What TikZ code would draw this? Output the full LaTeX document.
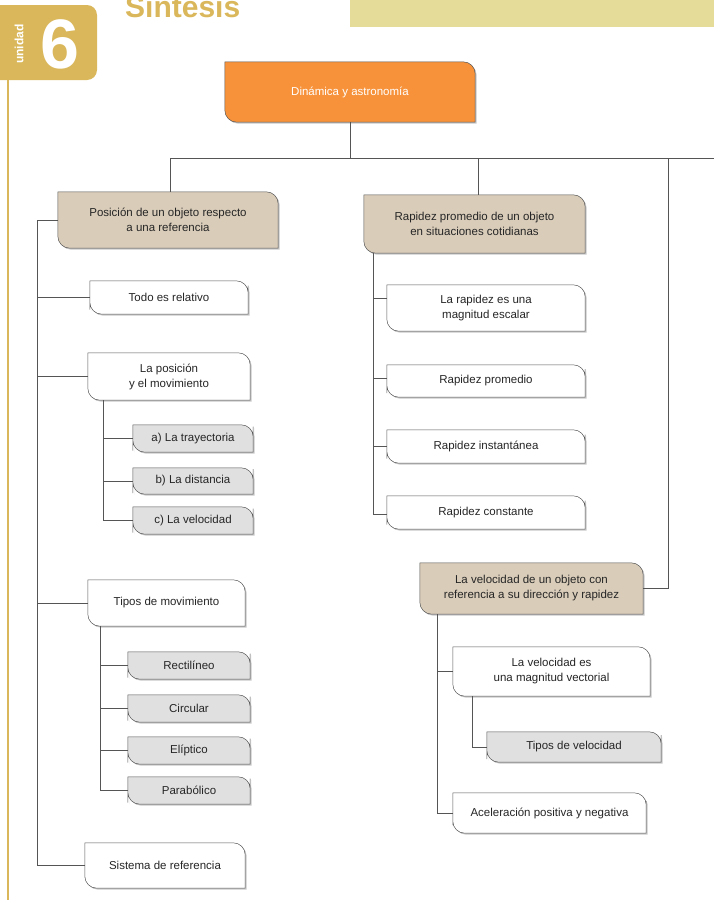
\documentclass[tikz,border=0pt]{standalone}
\usepackage{fontspec}
\setmainfont{Liberation Sans}
\definecolor{beige}{HTML}{D9CCB9}
\definecolor{grayb}{HTML}{E0E0E0}
\definecolor{orng}{HTML}{F7923A}
\definecolor{gold}{HTML}{D9B75A}
\definecolor{olive}{HTML}{E6DC9A}
\definecolor{edge}{HTML}{555555}
\tikzset{
  conn/.style={draw=edge, line width=0.6pt},
  lbl/.style={inner sep=0pt, align=center, font=\fontsize{11.5}{15}\selectfont, text=black!85},
}
\newcommand\boxpath[1]{(#1.north west) [sharp corners] -- (#1.north) [rounded corners=12pt] -- (#1.north east) -- (#1.east) [sharp corners] -- (#1.south east) -- (#1.south) [rounded corners=12pt] -- (#1.south west) -- (#1.west) [sharp corners] -- cycle}
\newcommand\mybox[7]{%
  \node[lbl, minimum width={(#4-#2)*1pt}, minimum height={(#5-#3)*1pt}] (#1) at ({(#2+#4)/2},{(#3+#5)/2}) {};
  \fill[black!22, transform canvas={shift={(1.5pt,-1.5pt)}}] \boxpath{#1};
  \filldraw[fill=#6, draw=edge, line width=0.5pt] \boxpath{#1};
  \node[lbl] at (#1.center) {#7};
}
\begin{document}
\begin{tikzpicture}[x=1pt,y=-1pt]
\useasboundingbox (0,0) rectangle (714,900);
% header
\fill[olive] (350,0) rectangle (714,27);
\fill[gold] (0,5) [rounded corners=10pt] -- (97,5) -- (97,80) [sharp corners] -- (0,80) -- cycle;
\node[text=white, font=\bfseries\fontsize{70}{70}\selectfont] at (60,44) {6};
\node[text=white, rotate=90, font=\bfseries\fontsize{12}{12}\selectfont] at (19,44) {unidad};
\draw[gold, line width=1.5pt] (8,80) -- (8,900);
\node[anchor=south west, text=gold, font=\bfseries\fontsize{30}{30}\selectfont, inner sep=0pt] at (125,18) {Síntesis};
% root
\mybox{root}{225}{62}{475}{122}{orng}{}
\node[lbl, text=white] at (root.center) {Dinámica y astronomía};
% level 1
\mybox{b1}{58}{192}{278}{248}{beige}{Posición de un objeto respecto\\a una referencia}
\mybox{b2}{364}{195}{585}{253}{beige}{Rapidez promedio de un objeto\\en situaciones cotidianas}
\mybox{b3}{420}{563}{643}{614}{beige}{La velocidad de un objeto con\\referencia a su dirección y rapidez}
% left branch
\mybox{l1}{90}{281}{248}{314}{white}{Todo es relativo}
\mybox{l2}{88}{353}{250}{400}{white}{La posición\\y el movimiento}
\mybox{l2a}{133}{425}{253}{452}{grayb}{a) La trayectoria}
\mybox{l2b}{133}{468}{253}{494}{grayb}{b) La distancia}
\mybox{l2c}{133}{507}{253}{534}{grayb}{c) La velocidad}
\mybox{l3}{88}{580}{245}{626}{white}{Tipos de movimiento}
\mybox{l3a}{128}{652}{250}{679}{grayb}{Rectilíneo}
\mybox{l3b}{128}{695}{250}{722}{grayb}{Circular}
\mybox{l3c}{128}{737}{250}{764}{grayb}{Elíptico}
\mybox{l3d}{128}{777}{250}{804}{grayb}{Parabólico}
\mybox{l4}{85}{843}{245}{888}{white}{Sistema de referencia}
% middle branch
\mybox{m1}{387}{285}{585}{331}{white}{La rapidez es una\\magnitud escalar}
\mybox{m2}{387}{365}{585}{397}{white}{Rapidez promedio}
\mybox{m3}{387}{430}{585}{463}{white}{Rapidez instantánea}
\mybox{m4}{387}{496}{585}{529}{white}{Rapidez constante}
% right branch
\mybox{r1}{453}{647}{650}{696}{white}{La velocidad es\\una magnitud vectorial}
\mybox{r1a}{487}{732}{661}{762}{grayb}{Tipos de velocidad}
\mybox{r2}{453}{793}{646}{833}{white}{Aceleración positiva y negativa}
% connector coordinates
\coordinate (top) at (350,158);
\coordinate (topL) at (170,158);
\coordinate (topR) at (714,158);
\coordinate (sL) at (37,0);
\coordinate (sL2) at (103,0);
\coordinate (sL3) at (100,0);
\coordinate (sM) at (373,0);
\coordinate (sR) at (437,0);
\coordinate (sR1) at (472,0);
\coordinate (rr) at (668,158);
\begin{scope}[conn]
\draw (root.south) -- (top);
\draw (topL) -- (topR);
\draw (topL) -- (topL |- b1.north);
\draw (478,158) -- (478,195);
\draw (rr) |- (b3.east);
% left
\draw (b1.west) -- (b1.west -| sL) -- (l4.west -| sL) -- (l4.west);
\draw (l1.west -| sL) -- (l1.west);
\draw (l2.west -| sL) -- (l2.west);
\draw (l3.west -| sL) -- (l3.west);
\draw (l2.south -| sL2) |- (l2c.west);
\draw (l2a.west -| sL2) -- (l2a.west);
\draw (l2b.west -| sL2) -- (l2b.west);
\draw (l3.south -| sL3) |- (l3d.west);
\draw (l3a.west -| sL3) -- (l3a.west);
\draw (l3b.west -| sL3) -- (l3b.west);
\draw (l3c.west -| sL3) -- (l3c.west);
% middle
\draw (b2.south -| sM) |- ([yshift=-2pt]m4.west);
\draw ([yshift=10pt]m1.west -| sM) -- ([yshift=10pt]m1.west);
\draw ([yshift=3pt]m2.west -| sM) -- ([yshift=3pt]m2.west);
\draw (m3.west -| sM) -- (m3.west);
% right
\draw (b3.south -| sR) |- (r2.west);
\draw (r1.west -| sR) -- (r1.west);
\draw (r1.south -| sR1) |- (r1a.west);
\end{scope}
\end{tikzpicture}
\end{document}
